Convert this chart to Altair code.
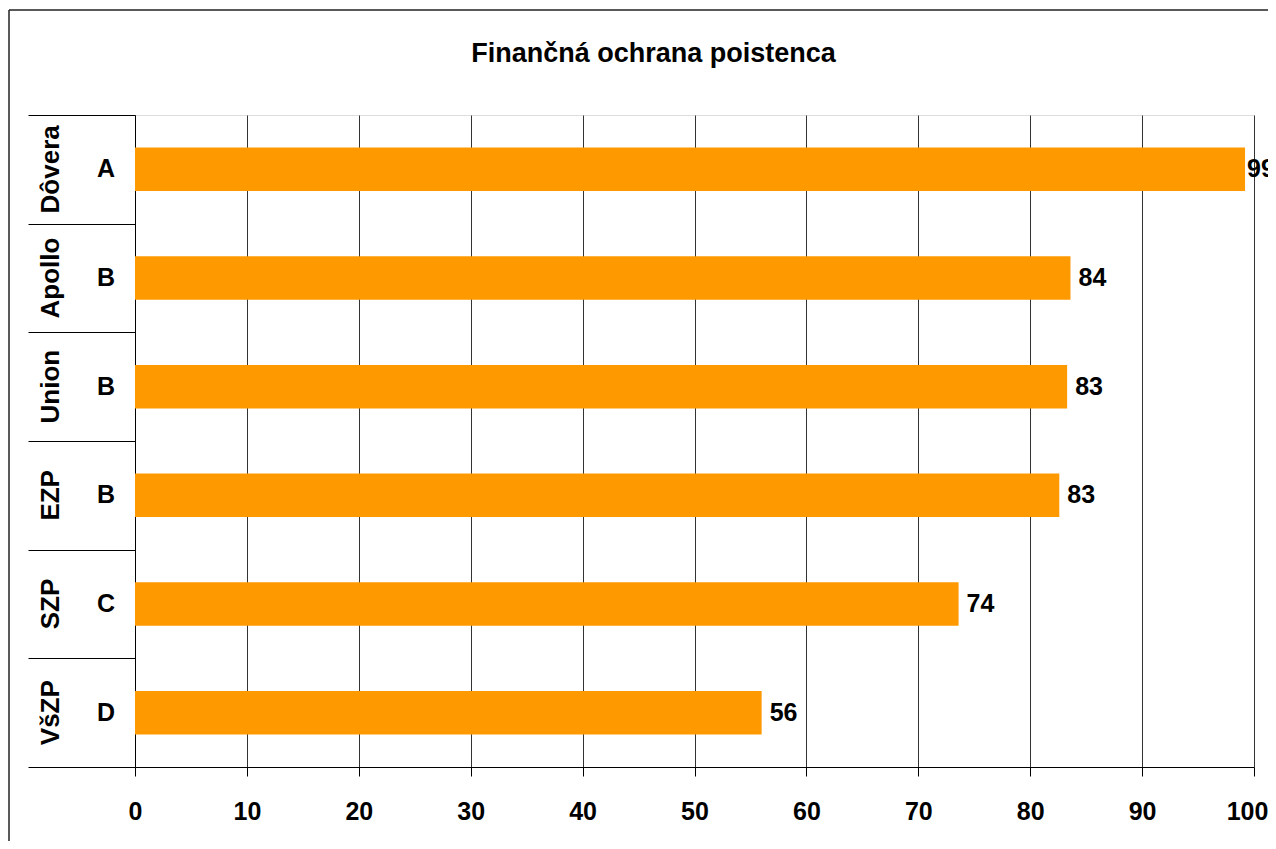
import altair as alt
import pandas as pd

companies = ["Dôvera", "Apollo", "Union", "EZP", "SZP", "VšZP"]
grades = ["A", "B", "B", "B", "C", "D"]
values = [99.2, 83.6, 83.3, 82.6, 73.6, 56.0]
x_ticks = [0, 10, 20, 30, 40, 50, 60, 70, 80, 90, 100]
title_text = "Finančná ochrana poistenca"

df = pd.DataFrame({"company": companies, "grade": grades, "value": values})

FONT = "Liberation Sans"
W, H = 1119, 652

y_enc = alt.Y(
    "company:N",
    sort=companies,
    scale=alt.Scale(paddingInner=0, paddingOuter=0),
    axis=alt.Axis(
        title=None, labels=False, ticks=True, tickSize=107, tickBand="extent",
        tickColor="#000000", tickWidth=1, domainColor="#000000", domainWidth=1,
        grid=False,
    ),
)

x_enc = alt.X(
    "value:Q",
    scale=alt.Scale(domain=[0, 100], nice=False),
    axis=alt.Axis(
        title=None, values=x_ticks, grid=True, gridColor="#333333", gridWidth=1,
        tickColor="#000000", tickSize=9, domainColor="#000000",
        labelFont=FONT, labelFontSize=25, labelFontWeight="bold", labelColor="#000000",
        labelPadding=23, labelFlush=False,
        labelOffset={"condition": {"test": "datum.value === 100", "value": -7}, "value": 0},
    ),
)

base = alt.Chart(df)

bars = base.mark_bar(color="#FF9900", height=alt.RelativeBandSize(0.4)).encode(x=x_enc, y=y_enc)

text_style = dict(align="left", baseline="middle", font=FONT, fontSize=25, fontWeight="bold", color="#000000")
val_enc = dict(x="value:Q", y=alt.Y("company:N", sort=companies), text=alt.Text("value:Q", format=".0f"))

vals = base.transform_filter("datum.value < 95").mark_text(dx=8, **text_style).encode(**val_enc)
vals_edge = base.transform_filter("datum.value >= 95").mark_text(dx=2, **text_style).encode(**val_enc)

grade_txt = base.mark_text(
    align="center", baseline="middle", font=FONT, fontSize=25, fontWeight="bold", color="#000000"
).encode(x=alt.value(-29), y=alt.Y("company:N", sort=companies), text="grade:N")

name_txt = base.mark_text(
    align="center", baseline="middle", angle=270, font=FONT, fontSize=26, fontWeight="bold", color="#000000"
).encode(x=alt.value(-84), y=alt.Y("company:N", sort=companies), text="company:N")

title_df = pd.DataFrame({"t": [title_text]})
title_txt = alt.Chart(title_df).mark_text(
    align="center", baseline="alphabetic", font=FONT, fontSize=27, fontWeight="bold", color="#000000"
).encode(x=alt.value(518.5), y=alt.value(-53), text="t:N")

frame_v = alt.Chart(pd.DataFrame({"a": [0]})).mark_rule(color="#222222", strokeWidth=1.5).encode(
    x=alt.value(-126), y=alt.value(-105), y2=alt.value(760)
)
frame_h = alt.Chart(pd.DataFrame({"a": [0]})).mark_rule(color="#222222", strokeWidth=1.5).encode(
    x=alt.value(-126), x2=alt.value(1160), y=alt.value(-105)
)

chart = alt.layer(bars, vals, vals_edge, grade_txt, name_txt, title_txt, frame_v, frame_h).properties(
    width=W, height=H,
    autosize=alt.AutoSizeParams(type="none"),
    padding={"left": 127, "top": 107, "right": 14, "bottom": 74},
).configure_view(stroke=None).configure(background="#FFFFFF")

chart.save("out.html", embed_options={"renderer": "svg", "actions": False})
